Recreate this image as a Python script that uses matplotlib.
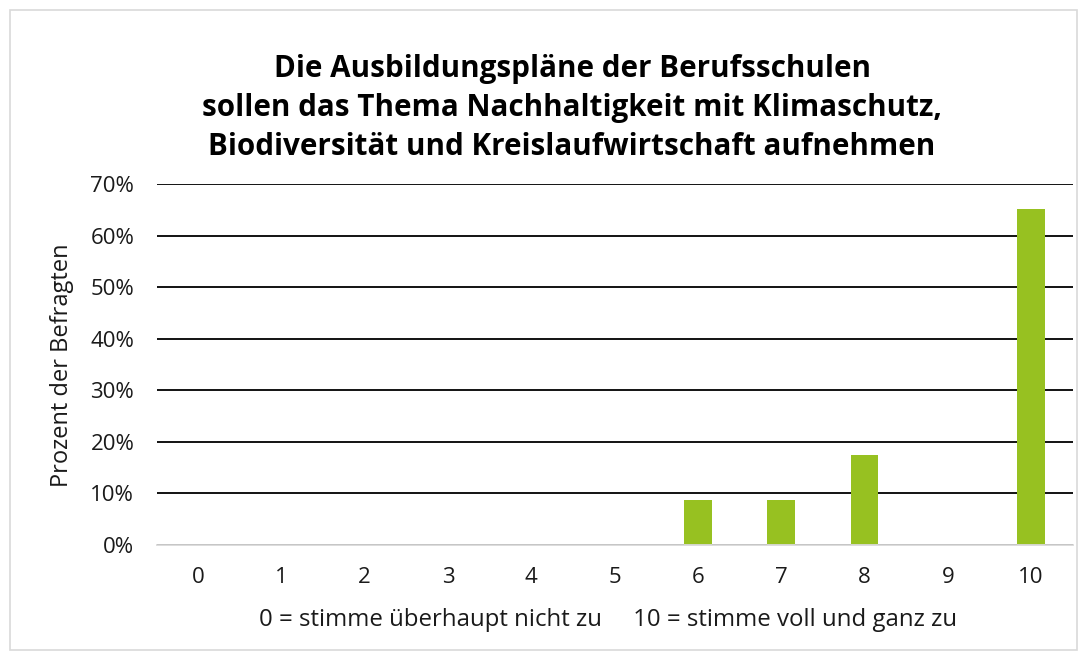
import matplotlib.pyplot as plt
from matplotlib.patches import Rectangle
from matplotlib.ticker import PercentFormatter

plt.rcParams['font.family'] = ['Open Sans', 'DejaVu Sans']

scores = [0, 1, 2, 3, 4, 5, 6, 7, 8, 9, 10]
percent = [0, 0, 0, 0, 0, 0, 8.7, 8.7, 17.4, 0, 65.2]

title = ("Die Ausbildungspläne der Berufsschulen\n"
         "sollen das Thema Nachhaltigkeit mit Klimaschutz,\n"
         "Biodiversität und Kreislaufwirtschaft aufnehmen")

W, H = 1087, 659
fig = plt.figure(figsize=(W / 100, H / 100), dpi=100)
ax = fig.add_axes([156.5 / W, 1 - 545 / H, (1072.7 - 156.5) / W, (545 - 184) / H])

# light frame round the chart
fig.patches.append(Rectangle((10 / W, 1 - 650 / H), 1067 / W, 640 / H,
                             transform=fig.transFigure, fill=False,
                             edgecolor='#d9d9d9', linewidth=1.2))

ax.bar(scores, percent, width=0.33, color='#97c121', zorder=3)

ax.set_xlim(-0.5, 10.5)
ax.set_ylim(0, 70)
ax.set_yticks(range(0, 71, 10))
ax.yaxis.set_major_formatter(PercentFormatter(decimals=0))
ax.set_xticks(scores)
ax.grid(axis='y', color='black', linewidth=1.3, zorder=0)
for s in ['top', 'right', 'left']:
    ax.spines[s].set_visible(False)
ax.spines['bottom'].set_color('#d9d9d9')
ax.spines['bottom'].set_linewidth(1.3)
ax.spines['bottom'].set_zorder(4)
ax.tick_params(length=0, labelsize=16, colors='#1a1a1a')
ax.tick_params(axis='y', pad=16)
ax.tick_params(axis='x', pad=16)

fig.text(62 / W, 1 - 365 / H, 'Prozent der Befragten', rotation=90,
         ha='center', va='center', fontsize=17, color='#1a1a1a')
fig.text(608 / W, 1 - 620 / H,
         '0 = stimme überhaupt nicht zu     10 = stimme voll und ganz zu',
         ha='center', va='center', fontsize=17.3, color='#1a1a1a')

fig.text(572 / W, 1 - 108 / H, title, ha='center', va='center',
         fontsize=21.3, fontweight='bold', linespacing=1.37)

fig.savefig('out.png', dpi=100)
